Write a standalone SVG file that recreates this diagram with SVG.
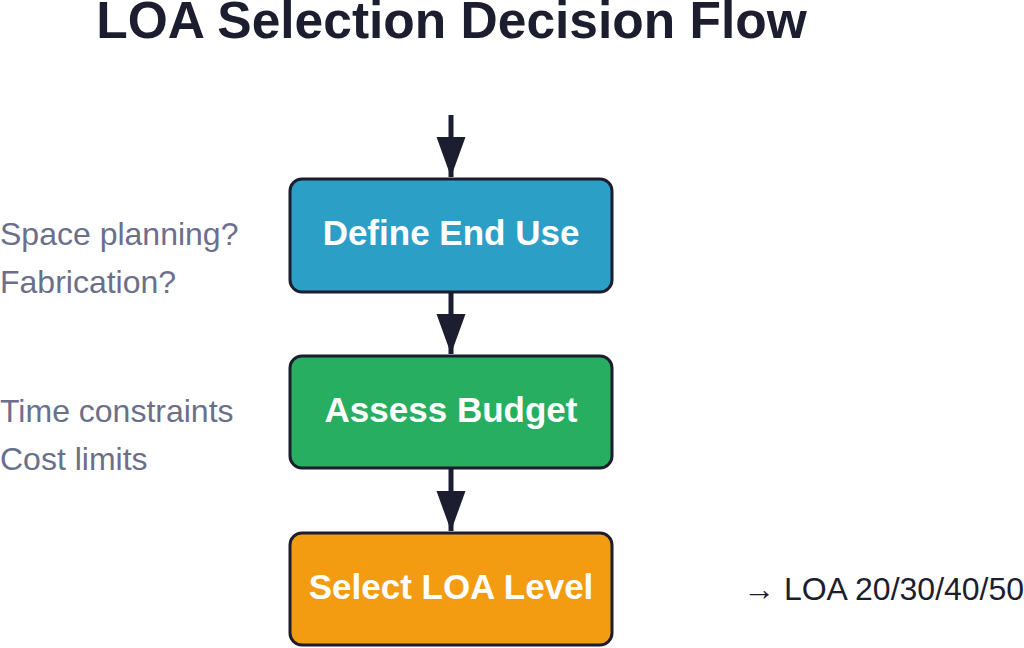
<svg xmlns="http://www.w3.org/2000/svg" width="1024" height="648" viewBox="0 0 1024 648">
<defs>
<style>
.title{font-family:"Liberation Sans",Arial,sans-serif;font-weight:bold;font-size:51.5px;fill:#1c1d2e}
.box{stroke:#1c1d2e;stroke-width:3}
.lbl{font-family:"Liberation Sans",Arial,sans-serif;font-weight:bold;font-size:35px;fill:#ffffff;text-anchor:middle}
.note{font-family:"Liberation Sans",Arial,sans-serif;font-size:32px;fill:#6b6f8c}
.out{font-family:"Liberation Sans",Arial,sans-serif;font-size:32px;fill:#1c1d2e}
.conn{stroke:#1c1d2e;stroke-width:5;fill:none}
</style>
<marker id="ah" markerWidth="8" markerHeight="8" refX="8" refY="4" orient="auto" markerUnits="strokeWidth">
<path d="M0,1.1 L8,4 L0,6.9 Z" fill="#1c1d2e"/>
</marker>
</defs>
<rect width="1024" height="648" fill="#ffffff"/>
<text class="title" x="451.5" y="38" text-anchor="middle">LOA Selection Decision Flow</text>
<g id="connectors">
<line class="conn" x1="451" y1="115" x2="451" y2="177" marker-end="url(#ah)"/>
<line class="conn" x1="451" y1="293" x2="451" y2="354" marker-end="url(#ah)"/>
<line class="conn" x1="451" y1="469" x2="451" y2="531" marker-end="url(#ah)"/>
</g>
<g id="define-end-use">
<rect class="box" x="290" y="179" width="322" height="113" rx="12" fill="#2b9fc6"/>
<text class="lbl" x="451" y="245">Define End Use</text>
</g>
<g id="assess-budget">
<rect class="box" x="290" y="356" width="322" height="112" rx="12" fill="#27ae60"/>
<text class="lbl" x="451" y="422">Assess Budget</text>
</g>
<g id="select-loa-level">
<rect class="box" x="290" y="533" width="322" height="112" rx="12" fill="#f39c12"/>
<text class="lbl" x="451" y="599">Select LOA Level</text>
</g>
<g id="notes">
<text class="note" x="0" y="245">Space planning?</text>
<text class="note" x="0" y="293">Fabrication?</text>
<text class="note" x="0" y="422">Time constraints</text>
<text class="note" x="0" y="470">Cost limits</text>
<text class="out" x="743" y="600">→ LOA 20/30/40/50</text>
</g>
</svg>
